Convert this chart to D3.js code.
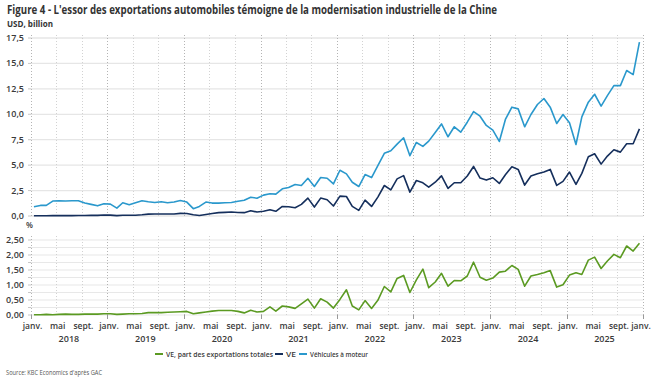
<!DOCTYPE html>
<html>
<head>
<meta charset="utf-8">
<script src="https://cdn.jsdelivr.net/npm/d3@7"></script>
<style>
  body { margin: 0; background: #fff; }
  svg { display: block; font-family: "Open Sans", sans-serif; }
</style>
</head>
<body>
<svg width="652" height="385"></svg>
<script>
// monthly data, Jan 2018 - Dec 2025
var months = d3.timeMonth.range(new Date(2018, 0, 1), new Date(2026, 0, 1));

// Véhicules à moteur, USD bn
var moteur = [
  0.91, 1.04, 1.04, 1.47, 1.5, 1.47, 1.5, 1.5, 1.27, 1.14, 1.0, 1.2,
  1.17, 0.78, 1.3, 1.1, 1.3, 1.5, 1.4, 1.33, 1.4, 1.3, 1.37, 1.53,
  1.37, 0.72, 0.94, 1.37, 1.27, 1.27, 1.3, 1.33, 1.45, 1.55, 1.85, 1.75,
  2.05, 2.18, 2.15, 2.67, 2.8, 3.1, 3.0, 3.71, 2.9, 3.78, 3.71, 3.16,
  4.5, 4.14, 3.32, 2.9, 4.07, 3.78, 4.95, 6.16, 6.42, 7.07, 7.69, 5.93,
  7.23, 6.84, 7.36, 8.2, 9.05, 7.79, 8.77, 8.24, 9.22, 10.27, 9.81, 8.9,
  8.44, 7.33, 9.49, 10.7, 10.53, 8.77, 9.98, 10.96, 11.55, 10.7, 9.09, 9.98,
  9.16, 7.03, 9.75, 11.19, 11.97, 10.8, 11.84, 12.82, 12.82, 14.3, 13.9, 17.1
];

// VE, USD bn
var ve = [
  0.03, 0.02, 0.03, 0.04, 0.04, 0.05, 0.04, 0.05, 0.05, 0.06, 0.06, 0.1,
  0.09, 0.04, 0.08, 0.07, 0.08, 0.12, 0.18, 0.2, 0.2, 0.19, 0.2, 0.26,
  0.25, 0.12, 0.05, 0.15, 0.24, 0.33, 0.36, 0.4, 0.35, 0.33, 0.52, 0.39,
  0.46, 0.62, 0.46, 0.94, 0.91, 0.81, 1.14, 1.76, 0.88, 1.76, 1.6, 0.98,
  1.95, 1.92, 0.94, 0.55, 1.56, 0.94, 1.86, 3.0, 2.57, 3.65, 3.97, 2.35,
  3.49, 3.26, 2.83, 3.32, 3.95, 2.71, 3.27, 3.27, 3.93, 4.87, 3.73, 3.53,
  3.76, 3.2, 4.06, 4.84, 4.58, 3.04, 3.93, 4.15, 4.32, 4.58, 3.01, 3.4,
  4.32, 3.11, 4.19, 5.82, 6.12, 5.1, 5.89, 6.51, 6.28, 7.1, 7.1, 8.57
];

// VE, part des exportations totales, %
var vePart = [
  0.01, 0.01, 0.02, 0.01, 0.02, 0.03, 0.02, 0.02, 0.03, 0.03, 0.03, 0.04,
  0.04, 0.02, 0.03, 0.04, 0.04, 0.05, 0.08, 0.08, 0.08, 0.09, 0.1, 0.11,
  0.12, 0.04, 0.07, 0.1, 0.13, 0.15, 0.15, 0.15, 0.12, 0.07, 0.16, 0.1,
  0.12, 0.27, 0.13, 0.3, 0.27, 0.22, 0.37, 0.53, 0.23, 0.54, 0.43, 0.23,
  0.52, 0.84, 0.3, 0.17, 0.48, 0.22, 0.49, 0.95, 0.77, 1.22, 1.32, 0.75,
  1.17, 1.53, 0.91, 1.1, 1.39, 0.96, 1.15, 1.14, 1.3, 1.76, 1.26, 1.16,
  1.23, 1.43, 1.46, 1.65, 1.52, 0.96, 1.3, 1.35, 1.41, 1.48, 0.93, 1.01,
  1.33, 1.41, 1.35, 1.83, 1.93, 1.55, 1.8, 2.02, 1.91, 2.3, 2.13, 2.39
];

var topTicks = [0, 2.5, 5, 7.5, 10, 12.5, 15, 17.5];
var botTicks = [0, 0.5, 1, 1.5, 2, 2.5];
var botGrid = [0, 0.25, 0.5, 0.75, 1, 1.25, 1.5, 1.75, 2, 2.25, 2.5];
var monthNames = ["janv.", "févr.", "mars", "avr.", "mai", "juin", "juil.", "août", "sept.", "oct.", "nov.", "déc."];
var years = [2018, 2019, 2020, 2021, 2022, 2023, 2024, 2025];

var colMoteur = "#2a98cc", colVe = "#152f5c", colPart = "#5b9a22";
var txt = "#3a3a3a";

var svg = d3.select("svg");

var x = d3.scaleTime()
    .domain([new Date(2018, 0, 1), new Date(2026, 0, 1)])
    .range([31, 643]);
var yTop = d3.scaleLinear().domain([0, 17.5]).range([216, 38]);
var yBot = d3.scaleLinear().domain([0, 2.5]).range([315, 240]);

var mid = function(m) { return x(d3.timeDay.offset(m, 14)); };
var fmt1 = function(v) { return d3.format(".1f")(v).replace(".", ","); };
var fmt2 = function(v) { return d3.format(".2f")(v).replace(".", ","); };

// horizontal gridlines
svg.append("g").selectAll("line").data(topTicks).enter().append("line")
    .attr("x1", 31).attr("x2", 643)
    .attr("y1", function(d) { return yTop(d); }).attr("y2", function(d) { return yTop(d); })
    .attr("stroke", "#e6e6e6").attr("stroke-width", 1.3);
svg.append("g").selectAll("line").data(botGrid).enter().append("line")
    .attr("x1", 31).attr("x2", 643)
    .attr("y1", function(d) { return yBot(d); }).attr("y2", function(d) { return yBot(d); })
    .attr("stroke", "#e8e8e8").attr("stroke-width", 1.1);

// vertical dotted gridlines every 4 months
var vTicks = d3.timeMonth.every(4).range(new Date(2018, 0, 1), new Date(2026, 0, 2));
[[35, 216], [236, 315]].forEach(function(r) {
  svg.append("g").selectAll("line").data(vTicks).enter().append("line")
      .attr("x1", function(d) { return Math.round(x(d)) + 0.5; })
      .attr("x2", function(d) { return Math.round(x(d)) + 0.5; })
      .attr("y1", r[0]).attr("y2", r[1])
      .attr("stroke", function(d) { return d.getMonth() === 0 ? "#b4b4b4" : "#d2d2d2"; })
      .attr("stroke-width", 1)
      .attr("stroke-dasharray", "1,2");
});

// small ticks on the left edge
svg.append("g").selectAll("line").data(topTicks).enter().append("line")
    .attr("x1", 28).attr("x2", 31)
    .attr("y1", function(d) { return yTop(d); }).attr("y2", function(d) { return yTop(d); })
    .attr("stroke", "#c8c8c8");
svg.append("g").selectAll("line").data(botGrid).enter().append("line")
    .attr("x1", 28).attr("x2", 31)
    .attr("y1", function(d) { return yBot(d); }).attr("y2", function(d) { return yBot(d); })
    .attr("stroke", "#c8c8c8");

// x ticks under the bottom panel
svg.append("g").selectAll("line")
    .data(vTicks.filter(function(d) { return d.getMonth() === 0; })).enter().append("line")
    .attr("x1", function(d) { return Math.round(x(d)) + 0.5; })
    .attr("x2", function(d) { return Math.round(x(d)) + 0.5; })
    .attr("y1", 315).attr("y2", 319)
    .attr("stroke", "#999");

// y labels
svg.append("g").selectAll("text").data(topTicks).enter().append("text")
    .attr("x", 24).attr("y", function(d) { return yTop(d) + 3; })
    .attr("text-anchor", "end")
    .attr("font-size", 9).attr("font-weight", 600).attr("fill", txt)
    .text(fmt1);
svg.append("g").selectAll("text").data(botTicks).enter().append("text")
    .attr("x", 24).attr("y", function(d) { return yBot(d) + 3; })
    .attr("text-anchor", "end")
    .attr("font-size", 9).attr("font-weight", 600).attr("fill", txt)
    .text(fmt2);

svg.append("text").attr("x", 26).attr("y", 228)
    .attr("font-size", 8).attr("font-weight", 600).attr("fill", txt).text("%");

// x labels
svg.append("g").selectAll("text").data(vTicks).enter().append("text")
    .attr("x", function(d) { return Math.min(x(d) + 1.5, 641); })
    .attr("y", 329)
    .attr("text-anchor", "middle")
    .attr("font-size", 8.5).attr("font-weight", 600).attr("fill", txt)
    .text(function(d) { return monthNames[d.getMonth()]; });
svg.append("g").selectAll("text").data(years).enter().append("text")
    .attr("x", function(d) { return x(new Date(d, 6, 1)); })
    .attr("y", 342)
    .attr("text-anchor", "middle")
    .attr("font-size", 9).attr("font-weight", 600).attr("fill", txt)
    .text(function(d) { return d; });

// lines
var lineTop = function(vals) {
  return d3.line()
      .x(function(d, i) { return mid(months[i]); })
      .y(function(d) { return yTop(d); })(vals);
};
svg.append("path").attr("d", lineTop(moteur))
    .attr("fill", "none").attr("stroke", colMoteur).attr("stroke-width", 1.6)
    .attr("stroke-linejoin", "round");
svg.append("path").attr("d", lineTop(ve))
    .attr("fill", "none").attr("stroke", colVe).attr("stroke-width", 1.6)
    .attr("stroke-linejoin", "round");
svg.append("path")
    .attr("d", d3.line()
      .x(function(d, i) { return mid(months[i]); })
      .y(function(d) { return yBot(d); })(vePart))
    .attr("fill", "none").attr("stroke", colPart).attr("stroke-width", 1.6)
    .attr("stroke-linejoin", "round");

// title
svg.append("text").attr("x", 7).attr("y", 14)
    .attr("font-size", 12.5).attr("font-weight", 700).attr("fill", "#333")
    .attr("textLength", 490).attr("lengthAdjust", "spacingAndGlyphs")
    .text("Figure 4 - L'essor des exportations automobiles témoigne de la modernisation industrielle de la Chine");
svg.append("text").attr("x", 7).attr("y", 27)
    .attr("font-size", 9).attr("font-weight", 700).attr("fill", "#333")
    .attr("textLength", 46).attr("lengthAdjust", "spacingAndGlyphs")
    .text("USD, billion");

// legend
var legend = [
  { label: "VE, part des exportations totales", color: colPart, x: 155, w: 107 },
  { label: "VE", color: colVe, x: 275, w: 10 },
  { label: "Véhicules à moteur", color: colMoteur, x: 299, w: 58 }
];
var lg = svg.append("g").selectAll("g").data(legend).enter().append("g");
lg.append("line")
    .attr("x1", function(d) { return d.x; }).attr("x2", function(d) { return d.x + 8; })
    .attr("y1", 354).attr("y2", 354)
    .attr("stroke", function(d) { return d.color; }).attr("stroke-width", 2);
lg.append("text")
    .attr("x", function(d) { return d.x + 11; }).attr("y", 357)
    .attr("font-size", 7.5).attr("font-weight", 600).attr("fill", txt)
    .attr("textLength", function(d) { return d.w; }).attr("lengthAdjust", "spacingAndGlyphs")
    .text(function(d) { return d.label; });

// source
svg.append("text").attr("x", 6).attr("y", 375)
    .attr("font-size", 7).attr("fill", "#555")
    .attr("textLength", 96).attr("lengthAdjust", "spacingAndGlyphs")
    .text("Source: KBC Economics d'après GAC");
</script>
</body>
</html>
